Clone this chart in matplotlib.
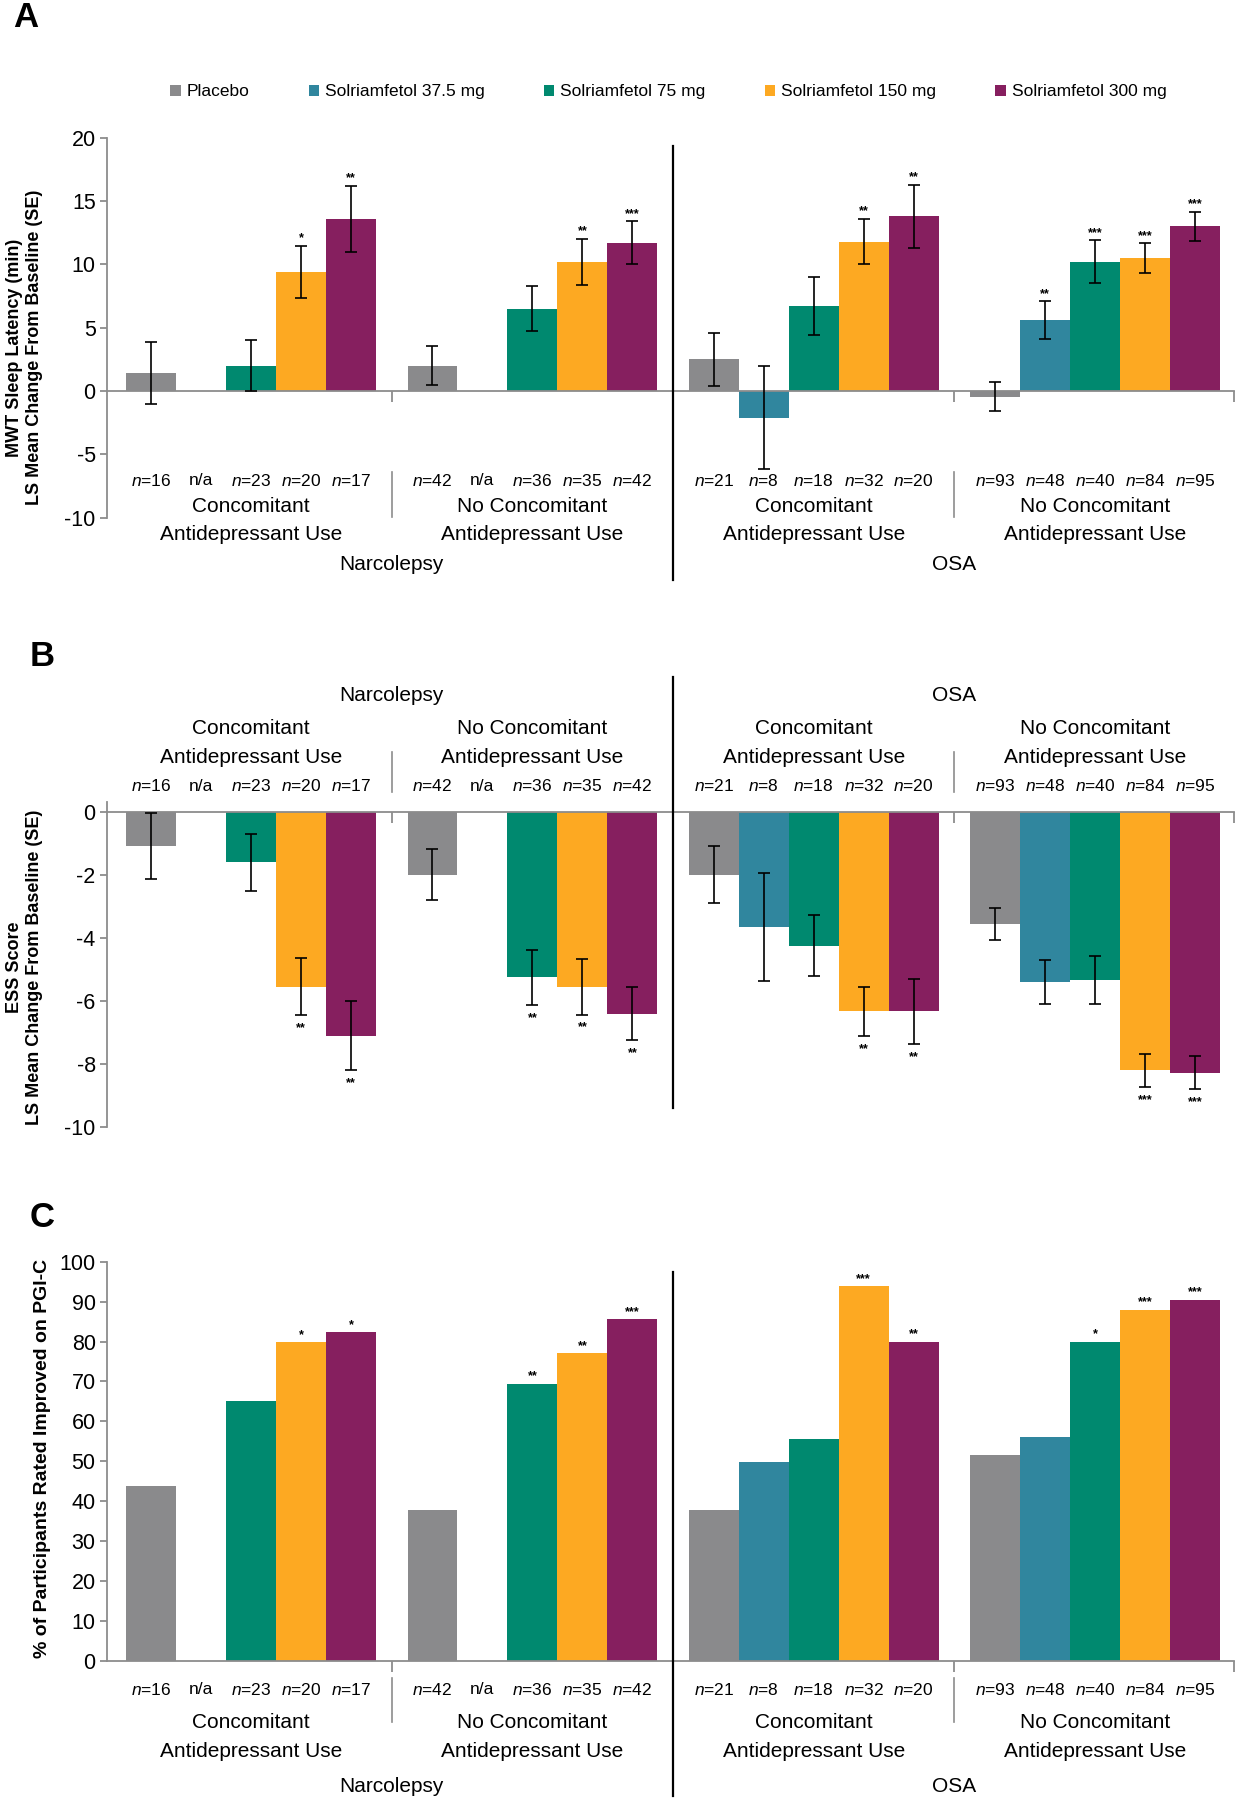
import matplotlib.pyplot as plt
from matplotlib.patches import Patch
import numpy as np

plt.rcParams['font.family'] = ['Liberation Sans', 'DejaVu Sans']
plt.rcParams['mathtext.fontset'] = 'custom'
plt.rcParams['mathtext.it'] = 'Liberation Sans:italic'
plt.rcParams['mathtext.rm'] = 'Liberation Sans'

nan = np.nan

# groups: narcolepsy conc, narcolepsy no conc, OSA conc, OSA no conc
doses = ['Placebo', 'Solriamfetol 37.5 mg', 'Solriamfetol 75 mg', 'Solriamfetol 150 mg', 'Solriamfetol 300 mg']
dose_colors = ['#8a8a8c', '#30869e', '#00896f', '#fda922', '#861f5f']
conditions = ['Narcolepsy', 'OSA']
subgroups = [('Concomitant', 'Antidepressant Use'), ('No Concomitant', 'Antidepressant Use')]
n_per_group = [[16, None, 23, 20, 17],
               [42, None, 36, 35, 42],
               [21, 8, 18, 32, 20],
               [93, 48, 40, 84, 95]]

# A: MWT sleep latency, LS mean change (min) and SE
mwt_mean = [[1.4, nan, 2.0, 9.4, 13.6],
            [2.0, nan, 6.5, 10.2, 11.7],
            [2.5, -2.1, 6.7, 11.8, 13.8],
            [-0.45, 5.6, 10.2, 10.5, 13.0]]
mwt_se = [[2.45, nan, 2.0, 2.05, 2.6],
          [1.55, nan, 1.8, 1.8, 1.7],
          [2.1, 4.05, 2.3, 1.8, 2.5],
          [1.15, 1.5, 1.7, 1.15, 1.15]]
mwt_sig = [['', '', '', '*', '**'],
           ['', '', '', '**', '***'],
           ['', '', '', '**', '**'],
           ['', '**', '***', '***', '***']]

# B: ESS score, LS mean change and SE
ess_mean = [[-1.1, nan, -1.6, -5.55, -7.1],
            [-2.0, nan, -5.25, -5.55, -6.4],
            [-2.0, -3.65, -4.25, -6.33, -6.33],
            [-3.57, -5.4, -5.33, -8.2, -8.27]]
ess_se = [[1.05, nan, 0.9, 0.9, 1.1],
          [0.8, nan, 0.88, 0.88, 0.85],
          [0.9, 1.72, 0.97, 0.77, 1.03],
          [0.51, 0.7, 0.77, 0.52, 0.52]]
ess_sig = [['', '', '', '**', '**'],
           ['', '', '**', '**', '**'],
           ['', '', '', '**', '**'],
           ['', '', '', '***', '***']]

# C: % improved on PGI-C
pgic_pct = [[43.7, nan, 65.2, 79.8, 82.3],
            [37.9, nan, 69.4, 77.1, 85.6],
            [37.9, 49.9, 55.5, 93.8, 79.9],
            [51.5, 56.2, 79.9, 88.0, 90.4]]
pgic_sig = [['', '', '', '*', '*'],
            ['', '', '**', '**', '***'],
            ['', '', '', '***', '**'],
            ['', '', '*', '***', '***']]

GAP = 0.63
x_pos = np.array([[g * (5 + GAP) + i for i in range(5)] for g in range(4)], dtype=float)
minor_seps = [(x_pos[0][4] + x_pos[1][0]) / 2, (x_pos[2][4] + x_pos[3][0]) / 2]
major_sep = (x_pos[1][4] + x_pos[2][0]) / 2
XMIN, XMAX = -0.89, 21.68
AXIS_GREY = '#8c8c8c'
LABEL_SIZE = 15
N_SIZE = 12.5


def draw_bars(ax, means, errs, sigs, below=False):
    """ Bars with optional error bars and significance stars. """
    for g in range(4):
        for i in range(5):
            v = means[g][i]
            if np.isnan(v):
                continue
            x = x_pos[g][i]
            ax.bar(x, v, width=1.0, color=dose_colors[i], linewidth=0, zorder=2)
            end = v
            if errs is not None:
                e = errs[g][i]
                ax.errorbar(x, v, yerr=e, fmt='none', ecolor='black', elinewidth=1.2,
                            capsize=4, capthick=1.2, zorder=3)
                end = v - e if below else v + e
            if sigs[g][i]:
                ax.annotate(sigs[g][i], (x, end), xytext=(0, -5 if below else 1),
                            textcoords='offset points', ha='center',
                            va='top' if below else 'bottom', fontsize=9, fontweight='bold')


def style_axis(ax, ylim, yticks):
    ax.set_xlim(XMIN, XMAX)
    ax.set_ylim(*ylim)
    ax.set_yticks(yticks)
    ax.set_yticklabels([str(t) for t in yticks])
    ax.spines['top'].set_visible(False)
    ax.spines['right'].set_visible(False)
    for s in ['left', 'bottom']:
        ax.spines[s].set_color(AXIS_GREY)
        ax.spines[s].set_linewidth(1.3)
    ax.spines['bottom'].set_position(('data', 0))
    ax.set_xticks(minor_seps + [major_sep, XMAX])
    ax.set_xticklabels([])
    ax.tick_params(axis='x', direction='out', length=8, width=1.3, color=AXIS_GREY)
    ax.tick_params(axis='y', direction='out', length=5, width=1.3, color=AXIS_GREY,
                   labelsize=15.5, pad=3)


def group_labels(ax, y_n, y_sub1, y_sub2, y_cond, major_span, minor_span):
    trans = ax.get_xaxis_transform()
    for g in range(4):
        for i in range(5):
            n = n_per_group[g][i]
            lab = 'n/a' if n is None else '$n$=%d' % n
            ax.text(x_pos[g][i], y_n, lab, transform=trans, ha='center', va='center', fontsize=N_SIZE)
        line1, line2 = subgroups[g % 2]
        ax.text(x_pos[g][2], y_sub1, line1, transform=trans, ha='center', va='center',
                fontsize=LABEL_SIZE)
        ax.text(x_pos[g][2], y_sub2, line2, transform=trans, ha='center', va='center',
                fontsize=LABEL_SIZE)
    for c, name in enumerate(conditions):
        ax.text(minor_seps[c], y_cond, name, transform=trans, ha='center', va='center',
                fontsize=LABEL_SIZE)
        ax.plot([minor_seps[c]] * 2, minor_span, transform=trans, color=AXIS_GREY, lw=1.2,
                clip_on=False)
    ax.plot([major_sep] * 2, major_span, transform=trans, color='black', lw=1.6, clip_on=False,
            zorder=5)


fig = plt.figure(figsize=(12.4, 18), dpi=100)

# Panel A
axA = fig.add_axes([0.0861, 0.7124, 0.9093, 0.2111])
draw_bars(axA, mwt_mean, mwt_se, mwt_sig)
style_axis(axA, (-10, 20), [20, 15, 10, 5, 0, -5, -10])
group_labels(axA, 0.0967, 0.030, -0.0453, -0.1239, (0.979, -0.163), (0.121, 0.003))

# Panel B
axB = fig.add_axes([0.0861, 0.37372, 0.9093, 0.18065])
draw_bars(axB, ess_mean, ess_se, ess_sig, below=True)
style_axis(axB, (-10, 0.3), [0, -2, -4, -6, -8, -10])
group_labels(axB, 1.0486, 1.2251, 1.1368, 1.3275, (1.384, 0.060), (1.1545, 1.0309))

# Panel C
axC = fig.add_axes([0.0861, 0.0772, 0.9093, 0.2219])
draw_bars(axC, pgic_pct, None, pgic_sig)
style_axis(axC, (0, 100), list(range(0, 101, 10)))
group_labels(axC, -0.0718, -0.155, -0.227, -0.313, (0.974, -0.339), (-0.043, -0.152))

# panel letters and y labels
fig.text(0.011, 0.9995, 'A', fontsize=25, fontweight='bold', va='top')
fig.text(0.024, 0.6445, 'B', fontsize=25, fontweight='bold', va='top')
fig.text(0.024, 0.3330, 'C', fontsize=25, fontweight='bold', va='top')

fig.text(0.020, 0.807, 'MWT Sleep Latency (min)\nLS Mean Change From Baseline (SE)', rotation=90,
         ha='center', va='center', multialignment='center', fontsize=13, fontweight='bold',
         linespacing=1.25)
fig.text(0.020, 0.4624, 'ESS Score\nLS Mean Change From Baseline (SE)', rotation=90,
         ha='center', va='center', multialignment='center', fontsize=13, fontweight='bold',
         linespacing=1.25)
fig.text(0.034, 0.19, '% of Participants Rated Improved on PGI-C', rotation=90,
         ha='center', va='center', fontsize=14, fontweight='bold')

handles = [Patch(facecolor=c, edgecolor='none', label=d) for c, d in zip(dose_colors, doses)]
fig.legend(handles=handles, loc='center', bbox_to_anchor=(0.539, 1 - 80 / 1568), ncol=5,
           frameon=False, fontsize=12.5, handlelength=0.6, handleheight=0.6,
           handletextpad=0.35, columnspacing=3.4)

fig.savefig('out.png', dpi=100)
